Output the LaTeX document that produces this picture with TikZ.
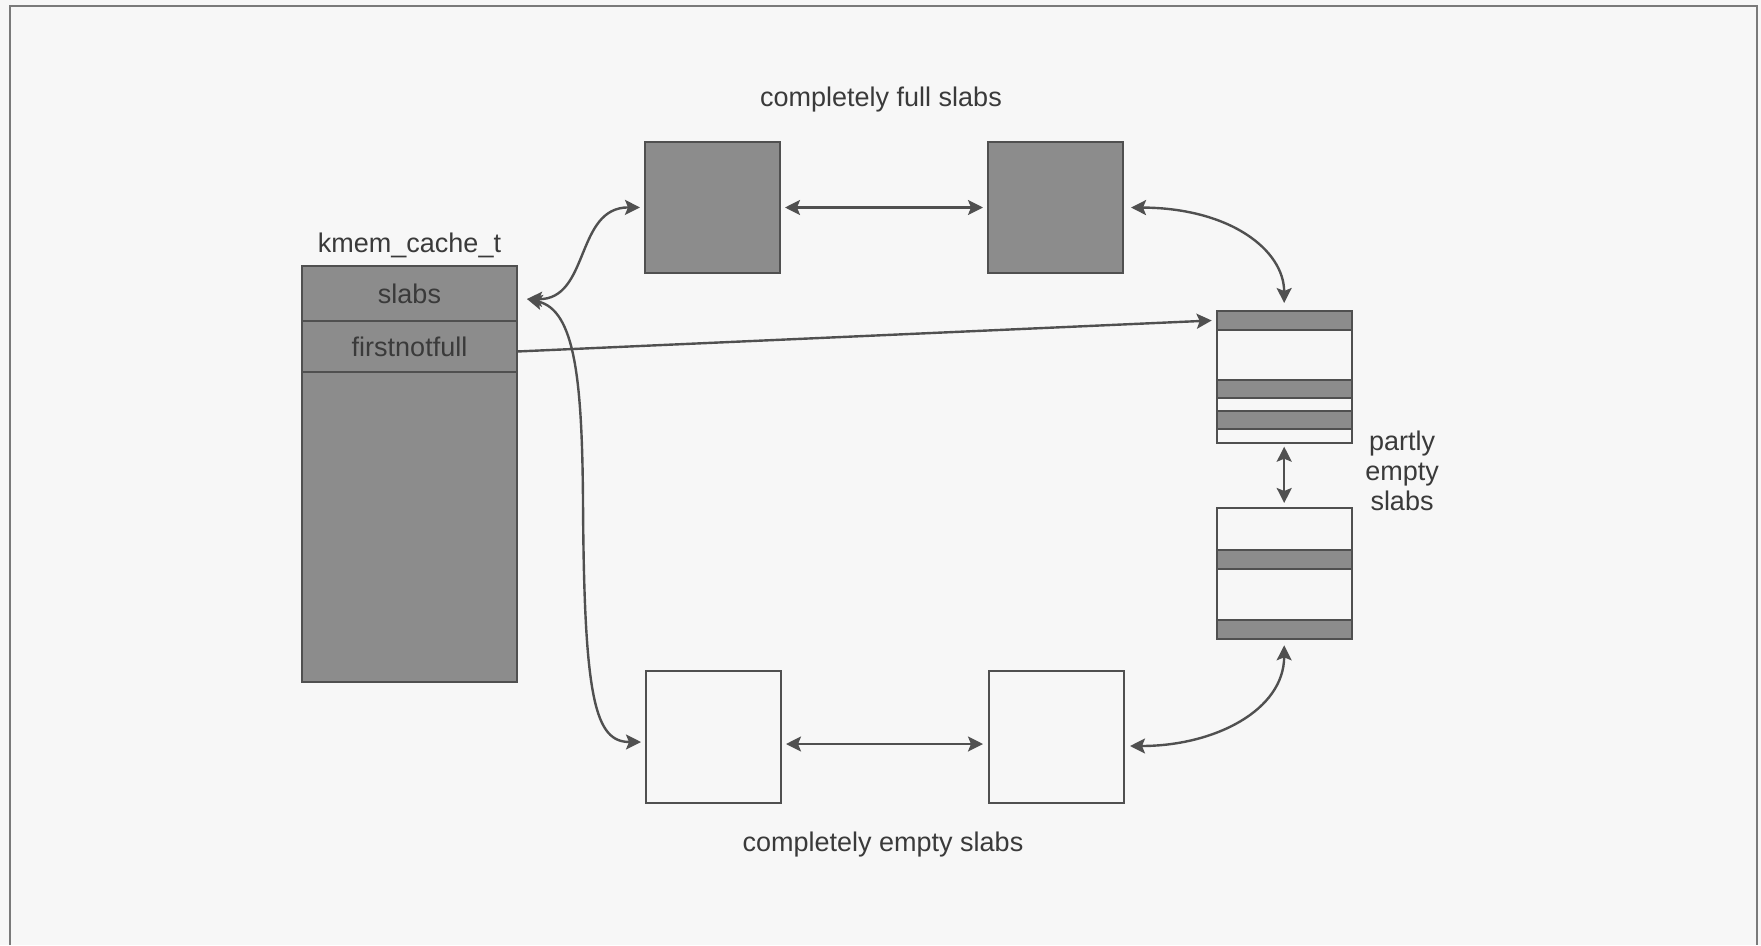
\documentclass[tikz,border=0pt]{standalone}
\usepackage{fontspec}
\newfontfamily\labfont{Liberation Sans}
\usetikzlibrary{arrows.meta}
\definecolor{fillgray}{HTML}{8C8C8C}
\definecolor{edgegray}{HTML}{505050}
\definecolor{inkgray}{HTML}{3A3A3A}
\definecolor{paper}{HTML}{F7F7F7}
\definecolor{framegray}{HTML}{7A7A7A}
\begin{document}
\begin{tikzpicture}[x=1pt,y=-1pt,
  slabtip/.tip={Stealth[length=15pt,width=15pt,inset=3pt]},
  box/.style={draw=edgegray, line width=2.2pt, inner sep=0pt, outer sep=0pt, anchor=north west},
  fullbox/.style={box, fill=fillgray},
  emptybox/.style={box, fill=paper},
  band/.style={box, fill=fillgray, minimum width=135pt},
  lab/.style={font=\labfont\fontsize{27}{30}\selectfont, text=inkgray, inner sep=0pt},
  link/.style={draw=edgegray, line width=2.4pt, slabtip-slabtip},
  ptr/.style={draw=edgegray, line width=2.4pt, -slabtip}
]
\fill[paper] (0,0) rectangle (1761,945);
\useasboundingbox (0,0) rectangle (1761,945);
\draw[framegray, line width=2pt] (10,945) -- (10,6) -- (1757,6) -- (1757,945);

% kmem_cache_t structure
\node[fullbox, minimum width=215pt, minimum height=416pt] (kc) at (302,266) {};
\node[fullbox, lab, minimum width=215pt, minimum height=55pt] (kslabs) at (302,266) {slabs};
\node[fullbox, lab, minimum width=215pt, minimum height=51pt] (kfnf) at (302,321) {firstnotfull};
\node[lab, anchor=base] (lkc) at (409.5,252) {kmem\_cache\_t};

% completely full slabs
\node[fullbox, minimum width=135pt, minimum height=131pt] (f1) at (645,142) {};
\node[fullbox, minimum width=135pt, minimum height=131pt] (f2) at (988,142) {};
\node[lab, anchor=base] (lfull) at (881,106.7) {completely full slabs};

% partly empty slabs
\node[emptybox, minimum width=135pt, minimum height=131.7pt] (p1) at (1216.7,311) {};
\node[band, minimum height=19pt] (pa1) at (1216.7,311) {};
\node[band, minimum height=18pt] (pa2) at (1216.7,380) {};
\node[band, minimum height=18pt] (pa3) at (1216.7,411) {};
\node[emptybox, minimum width=135pt, minimum height=131.3pt] (p2) at (1216.7,508) {};
\node[band, minimum height=19pt] (pb1) at (1216.7,550) {};
\node[band, minimum height=19.3pt] (pb2) at (1216.7,620) {};
\node[lab, align=center] (lpart) at (1402,471) {partly\\empty\\slabs};

% completely empty slabs
\node[emptybox, minimum width=135pt, minimum height=132pt] (e1) at (646,671) {};
\node[emptybox, minimum width=135pt, minimum height=132pt] (e2) at (989,671) {};
\node[lab, anchor=base] (lempty) at (883,851.7) {completely empty slabs};

% connectors
\draw[link] ([xshift=10pt,yshift=-5.5pt]kslabs.east) .. controls (590,300) and (575,207) .. ([xshift=-5pt]f1.west);
\draw[link] ([xshift=10pt,yshift=-5.5pt]kslabs.east) .. controls (575,310) and (582,380) .. (583,500) .. controls (584,700) and (595,742) .. ([xshift=-5pt,yshift=-5pt]e1.west);
\draw[link, shorten <=5pt, shorten >=5pt] (f1.east) -- (f2.west);
\draw[link] ([xshift=8pt]f2.east) .. controls (1230,208) and (1284,250) .. ([yshift=8pt]p1.north);
\draw[link, shorten <=4pt, shorten >=5pt] (p1.south) -- (p2.north);
\draw[link] ([yshift=-6pt]p2.south) .. controls (1284,710) and (1215,746) .. ([xshift=6pt,yshift=-9pt]e2.east);
\draw[link, shorten <=5pt, shorten >=6pt] ([yshift=-7pt]e1.east) -- ([yshift=-7pt]e2.west);
\draw[ptr] ([yshift=-5pt]kfnf.east) -- ([xshift=-5pt]pa1.west);
\end{tikzpicture}
\end{document}
